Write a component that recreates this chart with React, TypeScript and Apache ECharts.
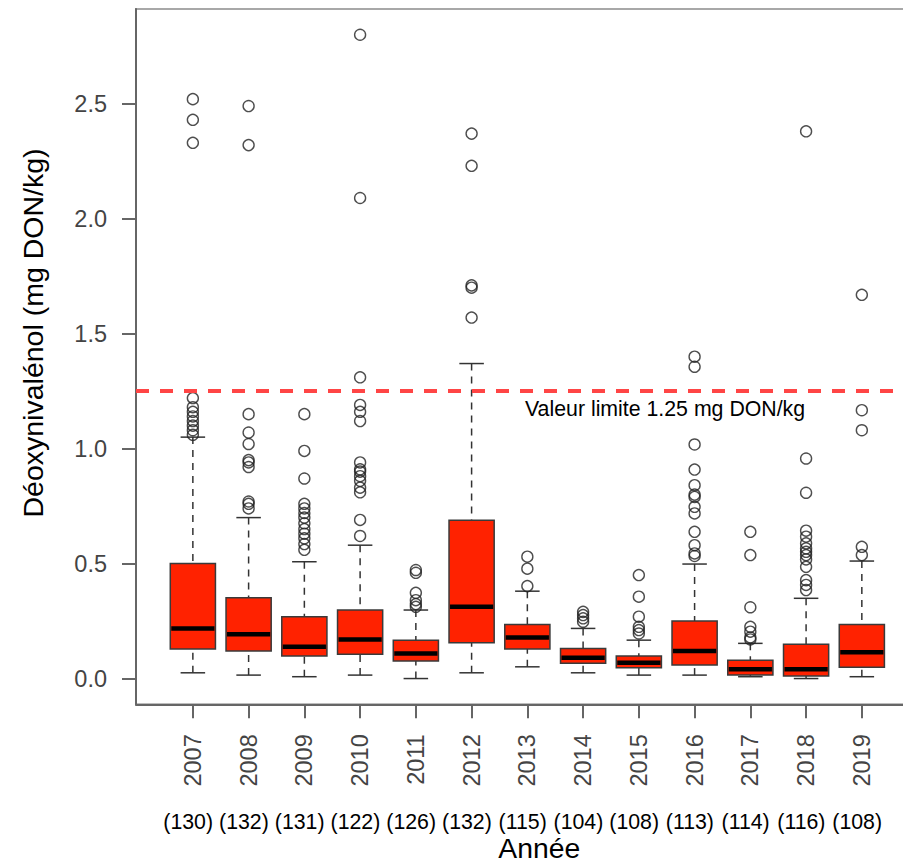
import { useEffect, useRef } from 'react';
import * as echarts from 'echarts';

const years = ['2007', '2008', '2009', '2010', '2011', '2012', '2013', '2014', '2015', '2016', '2017', '2018', '2019'];
const counts = [130, 132, 131, 122, 126, 132, 115, 104, 108, 113, 114, 116, 108];

const whiskerLow = [0.025, 0.015, 0.008, 0.015, 0.0, 0.025, 0.051, 0.025, 0.015, 0.015, 0.008, 0.0, 0.008];
const q1 = [0.128, 0.12, 0.098, 0.106, 0.076, 0.156, 0.128, 0.066, 0.047, 0.059, 0.015, 0.011, 0.049];
const median = [0.218, 0.193, 0.138, 0.17, 0.109, 0.312, 0.179, 0.09, 0.069, 0.12, 0.04, 0.04, 0.114];
const q3 = [0.5, 0.351, 0.269, 0.298, 0.167, 0.689, 0.235, 0.131, 0.098, 0.25, 0.08, 0.149, 0.235];
const whiskerHigh = [1.05, 0.7, 0.508, 0.58, 0.298, 1.37, 0.38, 0.218, 0.167, 0.498, 0.153, 0.349, 0.511];

const out2007 = [2.52, 2.43, 2.33, 1.22, 1.18, 1.16, 1.14, 1.12, 1.1, 1.08, 1.06];
const out2008 = [2.49, 2.32, 1.15, 1.07, 1.02, 0.95, 0.94, 0.92, 0.77, 0.76, 0.74];
const out2009 = [1.15, 0.99, 0.87, 0.76, 0.74, 0.72, 0.7, 0.675, 0.65, 0.63, 0.61, 0.585, 0.56];
const out2010 = [2.8, 2.09, 1.31, 1.19, 1.16, 1.12, 0.94, 0.91, 0.9, 0.88, 0.86, 0.83, 0.81, 0.69, 0.62];
const out2011 = [0.472, 0.46, 0.373, 0.341, 0.324, 0.312];
const out2012 = [2.37, 2.23, 1.71, 1.7, 1.57];
const out2013 = [0.53, 0.478, 0.402];
const out2014 = [0.29, 0.276, 0.262, 0.247];
const out2015 = [0.45, 0.356, 0.269, 0.225, 0.211, 0.196];
const out2016 = [1.4, 1.356, 1.018, 0.909, 0.841, 0.8, 0.79, 0.747, 0.718, 0.638, 0.58, 0.544, 0.533];
const out2017 = [0.638, 0.537, 0.31, 0.225, 0.204, 0.179, 0.17];
const out2018 = [2.38, 0.957, 0.808, 0.643, 0.617, 0.588, 0.566, 0.551, 0.537, 0.518, 0.486, 0.428, 0.407, 0.385];
const out2019 = [1.669, 1.167, 1.08, 0.573, 0.537];
const outliers = [out2007, out2008, out2009, out2010, out2011, out2012, out2013, out2014, out2015, out2016, out2017, out2018, out2019];

const yTicks = [0, 0.5, 1.0, 1.5, 2.0, 2.5];
const LIMIT = 1.25;
const LIMIT_TEXT = 'Valeur limite 1.25 mg DON/kg';
const Y_TITLE = 'Déoxynivalénol (mg DON/kg)';
const X_TITLE = 'Année';

const FONT = "'Liberation Sans', Arial, Helvetica, sans-serif";

function renderBox(_params: any, api: any) {
  const x = api.value(0);
  const low = api.coord([x, api.value(1)]);
  const b1 = api.coord([x, api.value(2)]);
  const md = api.coord([x, api.value(3)]);
  const b3 = api.coord([x, api.value(4)]);
  const high = api.coord([x, api.value(5)]);
  const unit = api.size([1, 0])[0];
  const half = unit * 0.405;
  const stap = unit * 0.22;
  const cx = low[0];
  const dash = { stroke: '#333333', lineWidth: 1.5, lineDash: [7, 6], fill: null };
  const solid = { stroke: '#333333', lineWidth: 1.5, fill: null };
  return {
    type: 'group',
    children: [
      { type: 'line', shape: { x1: cx, y1: high[1], x2: cx, y2: b3[1] }, style: dash },
      { type: 'line', shape: { x1: cx, y1: low[1], x2: cx, y2: b1[1] }, style: dash },
      { type: 'line', shape: { x1: cx - stap, y1: high[1], x2: cx + stap, y2: high[1] }, style: solid },
      { type: 'line', shape: { x1: cx - stap, y1: low[1], x2: cx + stap, y2: low[1] }, style: solid },
      {
        type: 'rect',
        shape: { x: cx - half, y: b3[1], width: 2 * half, height: b1[1] - b3[1] },
        style: { fill: '#FF2200', stroke: '#3a3a3a', lineWidth: 1.5 },
      },
      {
        type: 'line',
        shape: { x1: cx - half + 1, y1: md[1], x2: cx + half - 1, y2: md[1] },
        style: { stroke: '#000000', lineWidth: 4.5, fill: null },
      },
    ],
  };
}

export default function App() {
  const ref = useRef<HTMLDivElement>(null);
  useEffect(() => {
    if (!ref.current) return;
    const chart = echarts.init(ref.current, null, { renderer: 'svg' });
    const idx = years.map((_, i) => i + 1);
    const boxData = years.map((_, i) => [i + 1, whiskerLow[i], q1[i], median[i], q3[i], whiskerHigh[i]]);
    const outData: number[][] = [];
    outliers.forEach((arr, i) => arr.forEach((v) => outData.push([i + 1, v])));

    chart.setOption({
      animation: false,
      backgroundColor: '#ffffff',
      grid: {
        left: 136,
        top: 9,
        width: 782.7,
        height: 695.3,
        show: true,
        borderColor: '#a8a8a8',
        borderWidth: 2,
        backgroundColor: 'transparent',
        containLabel: false,
        outerBoundsMode: 'none',
      },
      xAxis: [
        {
          type: 'value',
          min: -0.02,
          max: 14.02,
          position: 'bottom',
          splitLine: { show: false },
          axisLine: { show: true, onZero: false, lineStyle: { color: '#666666', width: 2 } },
          axisTick: { show: true, customValues: idx, length: 14, lineStyle: { color: '#666666', width: 2 } },
          axisLabel: {
            show: true,
            customValues: idx,
            rotate: 90,
            margin: 30,
            fontSize: 23.5,
            fontFamily: FONT,
            color: '#444444',
            formatter: (v: number) => years[Math.round(v) - 1] ?? '',
          },
        },
        {
          type: 'value',
          min: -0.02,
          max: 14.02,
          position: 'bottom',
          splitLine: { show: false },
          axisLine: { show: false },
          axisTick: { show: false },
          axisLabel: {
            show: true,
            customValues: idx,
            margin: 117.3,
            verticalAlign: 'middle',
            padding: [0, 9.4, 0, 0],
            fontSize: 21.3,
            fontFamily: FONT,
            color: '#000000',
            formatter: (v: number) => {
              const c = counts[Math.round(v) - 1];
              return c === undefined ? '' : `(${c})`;
            },
          },
        },
      ],
      yAxis: {
        type: 'value',
        min: -0.112,
        max: 2.912,
        splitLine: { show: false },
        axisLine: { show: true, onZero: false, lineStyle: { color: '#666666', width: 2 } },
        axisTick: { show: true, customValues: yTicks, length: 14, lineStyle: { color: '#666666', width: 2 } },
        axisLabel: {
          show: true,
          customValues: yTicks,
          margin: 29,
          fontSize: 23.5,
          fontFamily: FONT,
          color: '#444444',
          formatter: (v: number) => v.toFixed(1),
        },
      },
      series: [
        {
          type: 'custom',
          xAxisIndex: 0,
          yAxisIndex: 0,
          renderItem: renderBox,
          encode: { x: 0, y: [1, 2, 3, 4, 5] },
          data: boxData,
          z: 2,
          silent: true,
        },
        {
          type: 'scatter',
          xAxisIndex: 0,
          yAxisIndex: 0,
          data: outData,
          symbol: 'circle',
          symbolSize: 11,
          itemStyle: { color: 'rgba(0,0,0,0)', borderColor: '#222222', borderWidth: 1.4 },
          z: 3,
          silent: true,
          markLine: {
            silent: true,
            symbol: 'none',
            label: { show: false },
            lineStyle: { color: '#ff4545', width: 4, type: [13, 11] },
            data: [{ yAxis: LIMIT }],
          },
        },
      ],
      graphic: [
        {
          type: 'text',
          x: 33.4,
          y: 333,
          rotation: Math.PI / 2,
          style: {
            text: Y_TITLE,
            fontSize: 28.5,
            fontFamily: FONT,
            fill: '#000000',
            align: 'center',
            verticalAlign: 'middle',
          },
        },
        {
          type: 'text',
          x: 539.2,
          y: 848.2,
          style: {
            text: X_TITLE,
            fontSize: 28.3,
            fontFamily: FONT,
            fill: '#000000',
            align: 'center',
            verticalAlign: 'middle',
          },
        },
        {
          type: 'text',
          x: 525,
          y: 408.6,
          style: {
            text: LIMIT_TEXT,
            fontSize: 21.3,
            fontFamily: FONT,
            fill: '#000000',
            align: 'left',
            verticalAlign: 'middle',
          },
        },
      ],
    });
    return () => chart.dispose();
  }, []);
  return (
    <div
      ref={ref}
      style={{ position: 'absolute', left: 0, top: 0, width: 903, height: 867, overflow: 'hidden', background: '#fff' }}
    />
  );
}
